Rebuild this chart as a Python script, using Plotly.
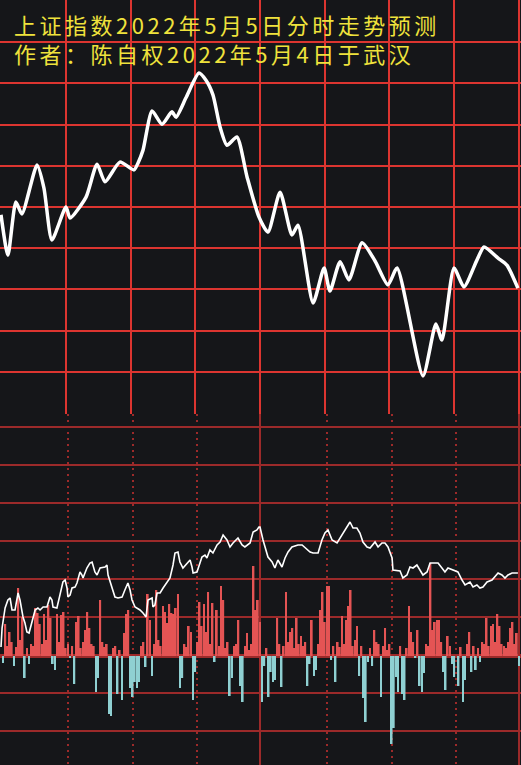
import plotly.graph_objects as go

# ---------------- data ----------------
# Upper panel: predicted index path (minute of session, index level)
pred_minutes = [0, 3.2, 6.9, 9.7, 16.7, 19.9, 23.6, 30.1, 32.0, 39.4, 44.5, 48.2, 55.1, 61.6,
                63.5, 65.8, 70.0, 74.6, 79.2, 81.1, 85.7, 91.7, 94.9, 98.2, 101.5, 104.7,
                109.3, 114.0, 119.5, 123.7, 129.3, 134.8, 137.6, 144.6, 149.7, 152.4, 157.1,
                161.2, 167.3, 173.3, 179.3, 183.5, 195.5, 201.5, 204.3, 209.9, 214.5, 220.5,
                223.8, 230.3, 234.4, 239.5]
pred_values = [3048.1, 3038.3, 3051.2, 3048.3, 3060.2, 3054.6, 3042.0, 3050.0, 3047.3, 3052.4,
               3060.4, 3056.1, 3060.9, 3059.0, 3060.7, 3063.8, 3073.3, 3070.1, 3073.1, 3071.8,
               3076.5, 3082.5, 3080.8, 3077.2, 3069.4, 3065.0, 3067.0, 3057.3, 3047.6, 3043.9,
               3053.6, 3043.2, 3045.6, 3026.7, 3035.2, 3029.6, 3036.7, 3032.3, 3041.3, 3036.9,
               3031.1, 3035.2, 3009.0, 3021.6, 3017.7, 3035.2, 3030.6, 3037.1, 3040.3, 3037.6,
               3035.9, 3030.3]

# Lower panel: reference line
ref_minutes = [0, 0.5, 1.9, 3.2, 4.2, 5.1, 6.5, 7.4, 7.9, 8.8, 9.7, 10.2, 11.1, 12.0, 13.0, 14.8,
               15.8, 17.1, 18.1, 19.5, 21.3, 22.7, 23.6, 24.1, 25.9, 27.3, 28.7, 29.7, 30.6,
               31.0, 32.0, 32.9, 34.3, 35.2, 36.6, 37.5, 38.0, 39.8, 41.2, 42.2, 43.5, 44.5,
               45.9, 48.2, 49.1, 49.6, 51.4, 52.8, 54.2, 56.1, 57.4, 58.8, 59.8, 60.7, 62.1,
               64.4, 65.8, 67.2, 68.1, 70.0, 70.4, 71.3, 72.3, 73.7, 75.1, 76.9, 78.3, 79.7,
               80.6, 82.0, 82.9, 84.3, 86.2, 87.6, 88.5, 89.0, 90.8, 92.2, 93.1, 94.5, 95.4,
               96.8, 98.2, 100.1, 101.5, 102.9, 104.7, 106.1, 107.5, 109.8, 111.7, 113.0,
               115.4, 116.8, 118.6, 119.5, 120.0, 121.4, 122.3, 123.7, 125.6, 126.9, 128.3,
               130.2, 131.6, 133.0, 134.8, 137.6, 139.5, 141.8, 143.2, 144.6, 146.9, 148.7,
               150.1, 151.5, 153.4, 155.7, 158.0, 160.3, 161.7, 163.1, 164.9, 166.3, 167.7,
               169.6, 171.0, 173.3, 174.7, 176.5, 177.9, 179.3, 181.2, 181.6, 183.5, 184.9,
               186.2, 188.1, 189.5, 190.9, 192.7, 194.1, 195.5, 197.4, 198.8, 201.1, 202.5,
               204.3, 205.7, 207.1, 209.4, 211.7, 213.6, 215.0, 217.3, 218.7, 220.5, 221.9,
               223.3, 225.2, 227.5, 228.9, 230.3, 232.1, 233.5, 234.9, 236.8, 239.5]
ref_values = [9, 28, 48, 56, 58, 46, 46, 56, 63, 56, 46, 39, 33, 24, 23, 38,
              46, 48, 46, 49, 49, 59, 56, 49, 48, 61, 74, 76, 68,
              59, 61, 68, 69, 73, 84, 81, 78, 88, 93, 94, 84, 81,
              88, 89, 91, 81, 69, 59, 58, 59, 66, 73, 66, 56, 49,
              46, 43, 39, 56, 58, 49, 51, 63, 63, 68, 74, 78, 91,
              103, 104, 94, 88, 93, 96, 89, 83, 84, 93, 99, 101, 98,
              106, 103, 111, 114, 121, 116, 109, 113, 118, 111, 109,
              113, 124, 126, 129, 129, 116, 109, 99, 94, 88, 96,
              89, 98, 104, 109, 111, 111, 106, 104, 103, 103, 116,
              123, 126, 116, 113, 121, 128, 134, 128, 128, 123, 114,
              109, 108, 114, 109, 113, 113, 109, 98, 86, 85, 85,
              78, 81, 89, 88, 91, 86, 81, 84, 93, 93, 93,
              88, 84, 88, 86, 84, 76, 71, 74, 69, 71, 68,
              69, 74, 76, 79, 83, 81, 78, 81, 83, 83]

# Lower panel: buy (red) and sell (cyan) bars
red_minutes = [2, 3, 4, 5, 7, 8, 9, 10, 12, 14, 15, 16, 17, 18, 19, 20, 21, 22, 23, 26, 27, 28,
               29, 30, 31, 33, 35, 36, 37, 38, 39, 40, 41, 42, 43, 46, 47, 48, 49, 52, 53, 55,
               57, 58, 59, 65, 66, 68, 69, 71, 72, 73, 74, 75, 76, 77, 78, 79, 80, 81, 82, 85,
               86, 87, 88, 91, 92, 93, 94, 95, 96, 97, 98, 100, 101, 102, 103, 104, 105, 108,
               109, 110, 113, 114, 115, 116, 117, 118, 119, 120, 123, 128, 129, 131, 132, 133,
               134, 135, 136, 137, 138, 139, 140, 141, 144, 147, 148, 149, 150, 151, 152, 154,
               156, 157, 158, 159, 160, 161, 162, 163, 164, 165, 167, 171, 173, 174, 175, 177,
               178, 179, 180, 185, 188, 189, 190, 191, 193, 197, 198, 199, 200, 201, 202, 203,
               204, 207, 208, 213, 216, 217, 219, 221, 223, 224, 225, 226, 227, 228, 229, 230,
               231, 232, 233, 234, 235, 236, 237, 238, 239]
red_values = [32, 10, 24, 14, 9, 68, 16, 39, 8, 12, 10, 48, 43, 32, 12, 42, 16, 51, 38, 42, 14, 41,
              44, 8, 12, 10, 34, 40, 8, 14, 26, 44, 28, 12, 10, 56, 14, 9, 12, 8, 10, 6,
              23, 42, 46, 10, 14, 62, 36, 12, 66, 16, 10, 50, 44, 33, 52, 43, 42, 48, 62, 12,
              9, 30, 24, 14, 54, 30, 52, 24, 64, 12, 53, 46, 10, 70, 56, 8, 14, 10,
              12, 36, 10, 23, 6, 12, 90, 46, 56, 34, 8, 38, 12, 10, 64, 14,
              24, 28, 8, 38, 12, 20, 10, 14, 36, 12, 46, 64, 34, 70, 70, 10,
              14, 9, 40, 12, 36, 50, 66, 10, 16, 30, 10, 8, 26, 14, 12, 10,
              28, 6, 12, 10, 8, 50, 24, 14, 26, 12, 10, 93, 26, 34, 36, 36,
              14, 20, 10, 9, 12, 24, 10, 8, 14, 12, 38, 10, 30, 32, 14, 42,
              30, 12, 10, 8, 14, 28, 34, 12, 23]
cyan_minutes = [1, 6, 11, 13, 24, 25, 32, 34, 44, 45, 50, 51, 54, 56, 60, 61, 62, 63, 64, 67, 70,
                83, 84, 89, 90, 99, 106, 107, 111, 112, 121, 122, 124, 125, 126, 127, 130, 142,
                143, 145, 146, 153, 155, 166, 168, 169, 170, 172, 176, 181, 182, 183, 184, 186,
                187, 192, 194, 195, 196, 205, 206, 209, 210, 212, 214, 215, 218, 220, 222, 240]
cyan_values = [7, 10, 22, 8, 8, 14, 2, 28, 36, 22, 58, 60, 38, 44, 32, 41, 26, 32, 26, 11, 20,
               32, 22, 44, 16, 6, 40, 22, 30, 46, 46, 10, 41, 16, 26, 24, 31, 30,
               8, 20, 14, 4, 26, 20, 42, 66, 6, 10, 41, 88, 72, 21, 36, 38,
               44, 2, 30, 36, 17, 16, 34, 8, 21, 30, 46, 24, 16, 14, 6, 10]

title_line1 = "上证指数2022年5月5日分时走势预测"
title_line2 = "作者：陈自权2022年5月4日于武汉"

# ---------------- styling ----------------
BG = "#151619"
GRID_TOP = "#dc3530"
GRID_BOT = "#9c2a2a"
YELLOW = "#efe23c"
RED_BAR = "#e45454"
CYAN_BAR = "#8fd0d2"

W, H = 521, 765
split = 1 - 414 / H          # boundary between the two panels (paper units)

fig = go.Figure()

fig.add_trace(go.Scatter(
    x=pred_minutes, y=pred_values, mode="lines",
    line=dict(color="white", width=3.5, shape="spline", smoothing=0.6),
    xaxis="x", yaxis="y", hoverinfo="skip"))

fig.add_trace(go.Bar(
    x=red_minutes, y=red_values, width=0.8, marker=dict(color=RED_BAR, line=dict(width=0)),
    xaxis="x2", yaxis="y2", hoverinfo="skip"))
fig.add_trace(go.Bar(
    x=cyan_minutes, y=[-v for v in cyan_values], width=0.8,
    marker=dict(color=CYAN_BAR, line=dict(width=0)),
    xaxis="x2", yaxis="y2", hoverinfo="skip"))

fig.add_trace(go.Scatter(
    x=ref_minutes, y=ref_values, mode="lines",
    line=dict(color="white", width=1.6),
    xaxis="x2", yaxis="y2", hoverinfo="skip"))

x_range = [-0.463, 240.93]

spacing = "letter-spacing:3.5px"
title_text = (f"<span style='{spacing}'>{title_line1}</span><br>"
              f"<span style='{spacing}'>{title_line2}</span>")

fig.update_layout(
    width=W, height=H,
    margin=dict(l=0, r=0, t=0, b=0, pad=0),
    paper_bgcolor=BG, plot_bgcolor=BG,
    showlegend=False, barmode="overlay",
    xaxis=dict(domain=[0, 1], anchor="y", range=x_range, tickmode="array",
               tickvals=[0, 30, 60, 90, 120, 150, 180, 210, 240],
               showgrid=True, gridcolor=GRID_TOP, gridwidth=2,
               showticklabels=False, ticks="", zeroline=False, showline=False),
    yaxis=dict(domain=[split, 1], anchor="x", range=[2999.76, 3100.24], tickmode="array",
               tickvals=[3010, 3020, 3030, 3040, 3050, 3060, 3070, 3080, 3090, 3100],
               showgrid=True, gridcolor=GRID_TOP, gridwidth=2,
               showticklabels=False, ticks="", zeroline=False, showline=False),
    xaxis2=dict(domain=[0, 1], anchor="y2", range=x_range, tickmode="array",
                tickvals=[0, 120, 240],
                showgrid=True, gridcolor=GRID_BOT, gridwidth=2,
                minor=dict(tickmode="array", tickvals=[31, 61, 91, 151, 181, 211],
                           showgrid=True, gridcolor=GRID_BOT, gridwidth=2,
                           griddash="2px,4px", ticks=""),
                showticklabels=False, ticks="", zeroline=False, showline=False),
    yaxis2=dict(domain=[0, split], anchor="x2", range=[-109, 242], tickmode="array",
                tickvals=[-75, -37, 39, 77, 115, 153, 191, 229],
                showgrid=True, gridcolor=GRID_BOT, gridwidth=2,
                zeroline=True, zerolinecolor=GRID_BOT, zerolinewidth=4,
                showticklabels=False, ticks="", showline=False),
    annotations=[
        dict(text=title_text, xref="paper", yref="paper", x=12 / W, y=1 - 38.5 / H,
             xanchor="left", yanchor="middle", align="left", showarrow=False,
             font=dict(family="Noto Sans CJK SC", size=22, color=YELLOW)),
    ],
)

fig.write_html("out.html", config={"displayModeBar": False},
               post_script="document.body.style.margin='0';"
                           "document.body.style.overflow='hidden';")
